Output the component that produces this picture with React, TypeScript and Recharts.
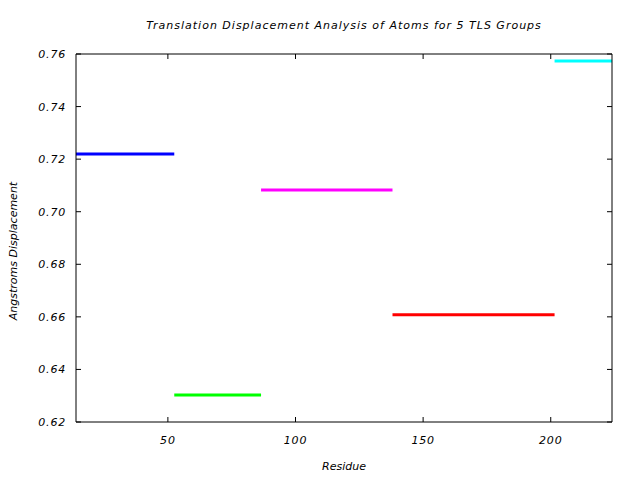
import { LineChart, Line, XAxis, YAxis } from "recharts";

// TLS groups: residue range and mean translation displacement
const groupNames = ["group1", "group2", "group3", "group4", "group5"];
const groupStart = [14, 52.5, 86.5, 138, 201.5];
const groupEnd = [52.5, 86.5, 138, 201.5, 224];
const displacement = [0.722, 0.6303, 0.7083, 0.6608, 0.7573];
const groupColors = ["#0000ff", "#00ff00", "#ff00ff", "#ff0000", "#00ffff"];

const xTicks = [50, 100, 150, 200];
const yTicks = [0.62, 0.64, 0.66, 0.68, 0.7, 0.72, 0.74, 0.76];

const FONT = "'DejaVu Sans', sans-serif";
const FONT_SIZE = 11;
const TICK_LEN = 5;

// ticks point inward, gnuplot style
const XTick = (props: any) => {
  const { x, y, payload } = props;
  return (
    <g>
      <line x1={x} x2={x} y1={y - 18} y2={y - 18 - TICK_LEN} stroke="#000" />
      <text
        x={x}
        y={y}
        dy={4}
        textAnchor="middle"
        fontFamily={FONT}
        fontStyle="italic"
        fontSize={FONT_SIZE}
        letterSpacing={0.8}
        fill="#000"
      >
        {payload.value}
      </text>
    </g>
  );
};

const YTick = (props: any) => {
  const { x, y, payload } = props;
  return (
    <g>
      <line x1={x + 10} x2={x + 10 + TICK_LEN} y1={y} y2={y} stroke="#000" />
      <text
        x={x}
        y={y}
        dy={4}
        textAnchor="end"
        fontFamily={FONT}
        fontStyle="italic"
        fontSize={FONT_SIZE}
        letterSpacing={0.8}
        fill="#000"
      >
        {Number(payload.value).toFixed(2)}
      </text>
    </g>
  );
};

const TopTick = (props: any) => {
  const { x, y } = props;
  return <line x1={x} x2={x} y1={y} y2={y + TICK_LEN} stroke="#000" />;
};

const RightTick = (props: any) => {
  const { x, y } = props;
  return <line x1={x - TICK_LEN} x2={x} y1={y} y2={y} stroke="#000" />;
};

const labelStyle = {
  position: "absolute" as const,
  textAlign: "center" as const,
  fontStyle: "italic",
  fontSize: FONT_SIZE,
  lineHeight: "16px",
  color: "#000",
  whiteSpace: "nowrap" as const,
};

export default function App() {
  const series = groupNames.map((name, i) => ({
    name,
    color: groupColors[i],
    data: [
      { x: groupStart[i], y: displacement[i] },
      { x: groupEnd[i], y: displacement[i] },
    ],
  }));

  return (
    <div
      style={{
        position: "absolute",
        left: 0,
        top: 0,
        width: 640,
        height: 480,
        background: "#fff",
        fontFamily: FONT,
      }}
    >
      <LineChart
        width={640}
        height={480}
        margin={{ top: 53, right: 27, bottom: 0, left: 16 }}
      >
        <XAxis
          dataKey="x"
          type="number"
          domain={[14, 224]}
          ticks={xTicks}
          allowDataOverflow
          height={58}
          tickSize={0}
          tickMargin={18}
          tick={<XTick />}
          axisLine={{ stroke: "#000" }}
        />
        <XAxis
          xAxisId="top"
          dataKey="x"
          orientation="top"
          type="number"
          domain={[14, 224]}
          ticks={xTicks}
          allowDataOverflow
          height={1}
          tickSize={0}
          tickMargin={0}
          tick={<TopTick />}
          axisLine={{ stroke: "#000" }}
        />
        <YAxis
          type="number"
          domain={[0.62, 0.76]}
          ticks={yTicks}
          allowDataOverflow
          width={60}
          tickSize={0}
          tickMargin={10}
          tick={<YTick />}
          axisLine={{ stroke: "#000" }}
        />
        <YAxis
          yAxisId="right"
          orientation="right"
          type="number"
          domain={[0.62, 0.76]}
          ticks={yTicks}
          allowDataOverflow
          width={1}
          tickSize={0}
          tickMargin={0}
          tick={<RightTick />}
          axisLine={{ stroke: "#000" }}
        />
        {/* invisible copy so the mirror axes (top/right) get drawn */}
        <Line
          xAxisId="top"
          yAxisId="right"
          data={series[0].data}
          dataKey="y"
          stroke="none"
          dot={false}
          activeDot={false}
          legendType="none"
          isAnimationActive={false}
        />
        {series.map((s) => (
          <Line
            key={s.name}
            data={s.data}
            dataKey="y"
            name={s.name}
            stroke={s.color}
            strokeWidth={3}
            strokeLinecap="butt"
            dot={false}
            activeDot={false}
            isAnimationActive={false}
          />
        ))}
      </LineChart>
      <div
        style={{ ...labelStyle, left: 76, width: 536, top: 18, letterSpacing: 1 }}
      >
        Translation Displacement Analysis of Atoms for 5 TLS Groups
      </div>
      <div style={{ ...labelStyle, left: 76, width: 536, top: 459 }}>
        Residue
      </div>
      <div
        style={{
          ...labelStyle,
          left: 14 - 100,
          top: 251 - 8,
          width: 200,
          transform: "rotate(-90deg)",
        }}
      >
        Angstroms Displacement
      </div>
    </div>
  );
}
